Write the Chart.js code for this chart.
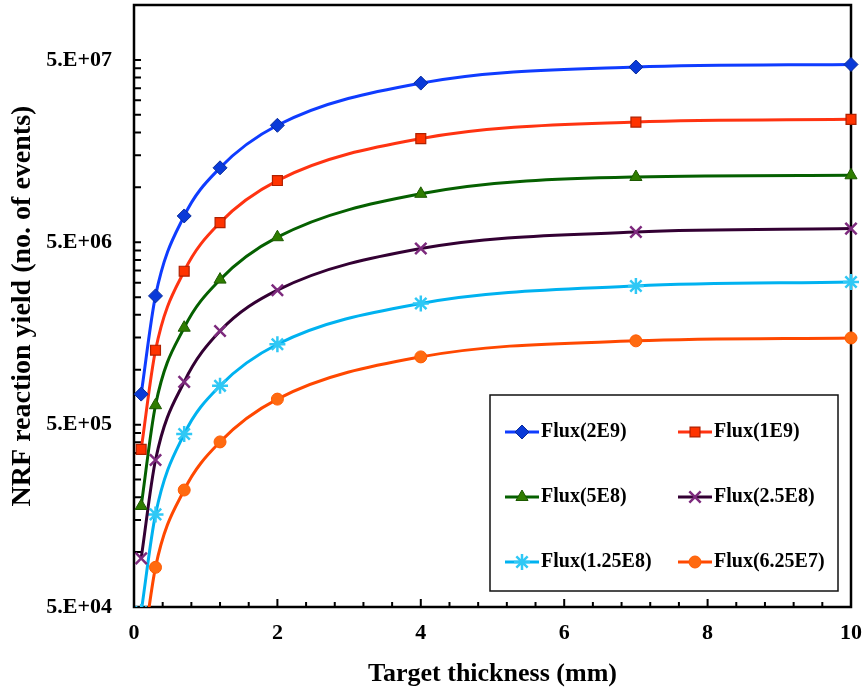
<!DOCTYPE html>
<html>
<head>
<meta charset="utf-8">
<title>NRF reaction yield</title>
<script src="https://cdn.jsdelivr.net/npm/chart.js@4.4.1/dist/chart.umd.min.js"></script>
<style>
  body { margin: 0; background: #fff; }
  #wrap { width: 864px; height: 690px; }
</style>
</head>
<body>
<div id="wrap"><canvas id="chartYield" width="864" height="690"></canvas></div>
<script>
// target thickness (mm)
const thickness = [0.1, 0.3, 0.7, 1.2, 2, 4, 7, 10];

// NRF yield (no. of events) per photon flux
const flux2E9    = [7.35e5, 2.54e6, 6.97e6, 1.28e7, 2.19e7, 3.73e7, 4.57e7, 4.72e7];
const flux1E9    = [3.66e5, 1.28e6, 3.47e6, 6.41e6, 1.09e7, 1.85e7, 2.28e7, 2.36e7];
const flux5E8    = [1.79e5, 6.39e5, 1.70e6, 3.12e6, 5.33e6, 9.22e6, 1.14e7, 1.165e7];
const flux2_5E8  = [9.24e4, 3.20e5, 8.58e5, 1.63e6, 2.73e6, 4.62e6, 5.69e6, 5.94e6];
const flux1_25E8 = [4.69e4, 1.61e5, 4.44e5, 8.16e5, 1.38e6, 2.31e6, 2.88e6, 3.03e6];
const flux6_25E7 = [2.4e4, 8.25e4, 2.19e5, 4.02e5, 6.90e5, 1.176e6, 1.44e6, 1.494e6];

const seriesNames = ['Flux(2E9)', 'Flux(1E9)', 'Flux(5E8)', 'Flux(2.5E8)', 'Flux(1.25E8)', 'Flux(6.25E7)'];

// axis ticks
const yMajorTicks = [5e4, 5e5, 5e6, 5e7];
const xMajorTicks = [0, 2, 4, 6, 8, 10];

const FONT = "'Liberation Serif', 'Times New Roman', serif";
Chart.defaults.font.family = FONT;
Chart.defaults.font.weight = 'bold';
Chart.defaults.color = '#000';

function pts(values) {
  return thickness.map((x, i) => ({ x: x, y: values[i] }));
}

function isMajorX(v) {
  return xMajorTicks.some(m => Math.abs(m - v) < 1e-9);
}
function isMajorY(v) {
  return yMajorTicks.some(m => Math.abs(m - v) / m < 1e-9);
}

function makeSet(i, values, line, fill, border, style, radius, bw) {
  return {
    label: seriesNames[i],
    data: pts(values),
    borderColor: line,
    borderWidth: 3,
    backgroundColor: fill,
    pointStyle: style,
    pointRadius: radius,
    pointBackgroundColor: fill,
    pointBorderColor: border,
    pointBorderWidth: bw,
    cubicInterpolationMode: 'monotone',
    clip: { left: false, top: false, right: false, bottom: 0 }
  };
}

// black frame round the plot plus tick marks pointing inwards
const frameTicks = {
  id: 'frameTicks',
  beforeDatasetsDraw(chart) {
    const { ctx, chartArea: a, scales } = chart;
    ctx.save();
    ctx.strokeStyle = '#000';
    ctx.lineWidth = 2.5;
    ctx.strokeRect(a.left, a.top, a.right - a.left, a.bottom - a.top);
    ctx.lineWidth = 2;
    ctx.beginPath();
    scales.x.ticks.forEach(t => {
      const px = scales.x.getPixelForValue(t.value);
      const len = isMajorX(t.value) ? 8 : 5;
      ctx.moveTo(px, a.bottom);
      ctx.lineTo(px, a.bottom - len);
    });
    scales.y.ticks.forEach(t => {
      const py = scales.y.getPixelForValue(t.value);
      ctx.moveTo(a.left, py);
      ctx.lineTo(a.left + 7, py);
    });
    ctx.stroke();
    ctx.restore();
  }
};

// boxed legend inside the plot, 2 columns x 3 rows
const boxLegend = {
  id: 'boxLegend',
  afterDatasetsDraw(chart) {
    const { ctx, chartArea: a } = chart;
    const x0 = a.left + 356, y0 = a.top + 390, w = 348, h = 196;
    ctx.save();
    ctx.fillStyle = '#fff';
    ctx.fillRect(x0, y0, w, h);
    ctx.strokeStyle = '#111';
    ctx.lineWidth = 1.5;
    ctx.strokeRect(x0, y0, w, h);

    const cols = [15, 188];
    const rows = [37, 102, 167];
    chart.data.datasets.forEach((ds, i) => {
      const cx = x0 + cols[i % 2];
      const cy = y0 + rows[Math.floor(i / 2)];
      ctx.strokeStyle = ds.borderColor;
      ctx.lineWidth = 3;
      ctx.beginPath();
      ctx.moveTo(cx, cy);
      ctx.lineTo(cx + 34, cy);
      ctx.stroke();

      ctx.fillStyle = ds.pointBackgroundColor;
      ctx.strokeStyle = ds.pointBorderColor;
      ctx.lineWidth = ds.pointBorderWidth;
      if (Chart.helpers && Chart.helpers.drawPoint) {
        Chart.helpers.drawPoint(ctx, {
          pointStyle: ds.pointStyle,
          radius: ds.pointRadius,
          borderWidth: ds.pointBorderWidth,
          rotation: 0
        }, cx + 17, cy);
      }

      ctx.fillStyle = '#000';
      ctx.font = 'bold 20px ' + FONT;
      ctx.textAlign = 'left';
      ctx.textBaseline = 'middle';
      ctx.fillText(ds.label, cx + 36, cy);
    });
    ctx.restore();
  }
};

new Chart(document.getElementById('chartYield'), {
  type: 'line',
  data: {
    datasets: [
      makeSet(0, flux2E9,    '#0f3cff', '#0a3ad8', '#0a2c9a', 'rectRot',  7,   1),
      makeSet(1, flux1E9,    '#ff3311', '#ff3300', '#b02000', 'rect',     7,   1.2),
      makeSet(2, flux5E8,    '#056000', '#2f7d00', '#1c5a00', 'triangle', 7,   1),
      makeSet(3, flux2_5E8,  '#330033', '#7d2a7d', '#7d2a7d', 'crossRot', 8,   2.5),
      makeSet(4, flux1_25E8, '#00b2f0', '#30c8f5', '#30c8f5', 'star',     8,   2.5),
      makeSet(5, flux6_25E7, '#ff4800', '#ff6a10', '#ff5a00', 'circle',   6,   1)
    ]
  },
  options: {
    responsive: false,
    animation: false,
    events: [],
    layout: { autoPadding: false, padding: { top: 5, right: 13, bottom: 0, left: 0 } },
    plugins: {
      legend: { display: false },
      tooltip: { enabled: false }
    },
    scales: {
      x: {
        type: 'linear',
        min: 0,
        max: 10,
        grid: { display: false, drawTicks: false },
        border: { display: false },
        afterBuildTicks(scale) {
          const t = [];
          for (let i = 0; i <= 25; i++) t.push({ value: Math.round(i * 4) / 10 });
          scale.ticks = t;
        },
        afterFit(scale) {
          scale.height = 83;
          scale.paddingLeft = 0;
          scale.paddingRight = 0;
        },
        ticks: {
          autoSkip: false,
          maxRotation: 0,
          minRotation: 0,
          padding: 13,
          font: { size: 22, weight: 'bold' },
          callback: v => (isMajorX(v) ? String(v) : '')
        },
        title: {
          display: true,
          text: 'Target thickness (mm)',
          font: { size: 26, weight: 'bold' },
          padding: { top: 5, bottom: 0 }
        }
      },
      y: {
        type: 'logarithmic',
        min: 5e4,
        max: 1e8,
        grid: { display: false, drawTicks: false },
        border: { display: false },
        afterBuildTicks(scale) {
          const t = [];
          yMajorTicks.forEach(m => {
            for (let k = 1; k <= 9; k++) {
              const v = m * k;
              if (v < 1e8) t.push({ value: v });
            }
          });
          scale.ticks = t;
        },
        afterFit(scale) {
          scale.width = 134;
          scale.paddingTop = 0;
          scale.paddingBottom = 0;
        },
        ticks: {
          autoSkip: false,
          padding: 22,
          font: { size: 22, weight: 'bold' },
          callback: v => {
            if (!isMajorY(v)) return '';
            const e = Math.round(Math.log10(v / 5));
            return '5.E+' + String(e).padStart(2, '0');
          }
        },
        title: {
          display: true,
          text: 'NRF reaction yield (no. of events)',
          font: { size: 28, weight: 'bold' },
          padding: { top: 6, bottom: 0 }
        }
      }
    }
  },
  plugins: [frameTicks, boxLegend]
});
</script>
</body>
</html>
